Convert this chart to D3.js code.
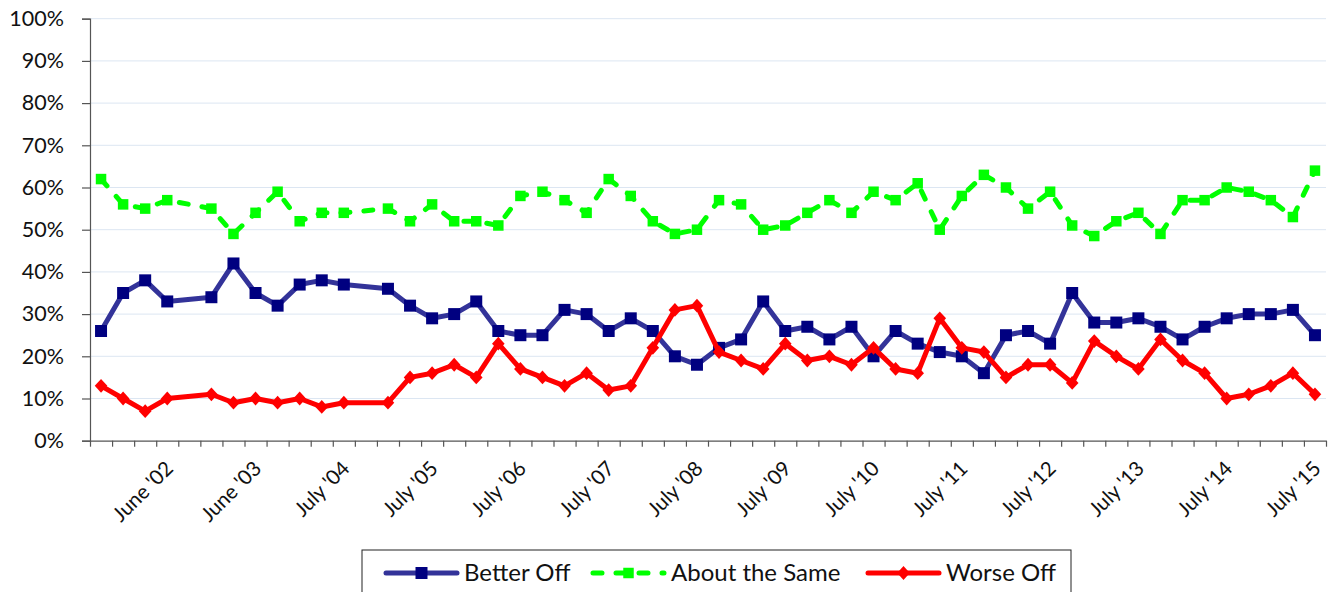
<!DOCTYPE html>
<html>
<head>
<meta charset="utf-8">
<script src="https://cdn.jsdelivr.net/npm/d3@7"></script>
<style>
  html, body { margin: 0; padding: 0; background: #fff; }
  svg { display: block; font-family: Lato, "Open Sans", sans-serif; }
</style>
</head>
<body>
<svg id="chart" width="1330" height="592"></svg>
<script>
// ---- data ----
const categoryCount = 56; // quarterly survey periods
const tickLabels = ["June '02", "June '03", "July '04", "July '05", "July '06", "July '07", "July '08",
                    "July '09", "July '10", "July '11", "July '12", "July '13", "July '14", "July '15"];
const tickLabelStart = 3, tickLabelStep = 4;
const yTicks = [0, 10, 20, 30, 40, 50, 60, 70, 80, 90, 100];

const betterOff = [26, 35, 38, 33, null, 34, 42, 35, 32, 37, 38, 37, null, 36, 32, 29,
                   30, 33, 26, 25, 25, 31, 30, 26, 29, 26, 20, 18, 22, 24, 33, 26, 27, 24, 27, 20,
                   26, 23, 21, 20, 16, 25, 26, 23, 35, 28, 28, 29, 27, 24, 27, 29, 30, 30, 31, 25];
const aboutSame = [62, 56, 55, 57, null, 55, 49, 54, 59, 52, 54, 54, null, 55, 52, 56,
                   52, 52, 51, 58, 59, 57, 54, 62, 58, 52, 49, 50, 57, 56, 50, 51, 54, 57, 54, 59,
                   57, 61, 50, 58, 63, 60, 55, 59, 51, 48.5, 52, 54, 49, 57, 57, 60, 59, 57, 53, 64];
const worseOff = [13, 10, 7, 10, null, 11, 9, 10, 9, 10, 8, 9, null, 9, 15, 16,
                  18, 15, 23, 17, 15, 13, 16, 12, 13, 22, 31, 32, 21, 19, 17, 23, 19, 20, 18, 22,
                  17, 16, 29, 22, 21, 15, 18, 18, 13.7, 23.6, 20, 17, 24, 19, 16, 10, 11, 13, 16, 11];

const seriesNames = ["Better Off", "About the Same", "Worse Off"];

// ---- layout ----
const svg = d3.select("#chart");
const plot = { left: 90, right: 1326, top: 18.7, bottom: 440.7 };

const idx = d3.range(categoryCount);
const x = d3.scaleBand().domain(idx).range([plot.left, plot.right]).paddingInner(0).paddingOuter(0);
const cx = i => x(i) + x.bandwidth() / 2;
const xEdges = d3.scaleLinear().domain([0, categoryCount]).range([plot.left, plot.right]);
const y = d3.scaleLinear().domain([0, 100]).range([plot.bottom, plot.top]);

// gridlines
svg.append("g").selectAll("line").data(yTicks.filter(t => t > 0)).join("line")
  .attr("x1", plot.left).attr("x2", plot.right)
  .attr("y1", d => y(d)).attr("y2", d => y(d))
  .attr("stroke", "#dce6f2").attr("stroke-width", 1);

// y axis
const yAxis = svg.append("g").attr("transform", `translate(${plot.left},0)`)
  .call(d3.axisLeft(y).tickValues(yTicks).tickFormat(d => d + "%").tickSize(8).tickPadding(18));
yAxis.select(".domain").attr("stroke", "#555").attr("stroke-width", 1.2);
yAxis.selectAll(".tick line").attr("stroke", "#555").attr("stroke-width", 1.2);
yAxis.selectAll("text").attr("font-size", 21.5).attr("fill", "#111").attr("font-family", "Lato");

// x axis (ticks between categories)
const xAxis = svg.append("g").attr("transform", `translate(0,${plot.bottom})`)
  .call(d3.axisBottom(xEdges).tickValues(d3.range(categoryCount + 1)).tickFormat("").tickSize(6).tickSizeOuter(0));
xAxis.select(".domain").attr("stroke", "#555").attr("stroke-width", 1.2);
xAxis.selectAll(".tick line").attr("stroke", "#555").attr("stroke-width", 1.2);

// x labels
svg.append("g").selectAll("text").data(tickLabels).join("text")
  .attr("transform", (d, k) => `translate(${cx(tickLabelStart + k * tickLabelStep) + 2},${plot.bottom + 24}) rotate(-45)`)
  .attr("text-anchor", "end").attr("dy", "0.35em")
  .attr("font-size", 20.5).attr("fill", "#111")
  .text(d => d);

// series
const series = [
  { name: seriesNames[0], values: betterOff, line: "#333399", fill: "#000080", dash: null, marker: "square", size: 12 },
  { name: seriesNames[1], values: aboutSame, line: "#00ff00", fill: "#00ff00", dash: "9,14", marker: "square", size: 10.5 },
  { name: seriesNames[2], values: worseOff, line: "#ff0000", fill: "#ff0000", dash: null, marker: "diamond", size: 12 }
];

const lineGen = d3.line().x(d => cx(d.i)).y(d => y(d.v));

function markerPath(type, s) {
  const h = s / 2;
  if (type === "square") return `M${-h},${-h}H${h}V${h}H${-h}Z`;
  return `M0,${-h * 1.15}L${h * 1.05},0L0,${h * 1.15}L${-h * 1.05},0Z`;
}

series.forEach(s => {
  const pts = s.values.map((v, i) => ({ i, v })).filter(d => d.v !== null);
  const g = svg.append("g");
  g.append("path").datum(pts).attr("d", lineGen)
    .attr("fill", "none").attr("stroke", s.line).attr("stroke-width", 5)
    .attr("stroke-linejoin", "round").attr("stroke-linecap", "round")
    .attr("stroke-dasharray", s.dash);
  g.selectAll("path.m").data(pts).join("path").attr("class", "m")
    .attr("transform", d => `translate(${cx(d.i)},${y(d.v)})`)
    .attr("d", markerPath(s.marker, s.size))
    .attr("fill", s.fill);
});

// legend
const legend = svg.append("g");
legend.append("rect").attr("x", 362).attr("y", 550).attr("width", 709).attr("height", 60)
  .attr("fill", "#fff").attr("stroke", "#222").attr("stroke-width", 1);
const legendX = [386, 593, 868];
series.forEach((s, k) => {
  const gx = legendX[k];
  const g = legend.append("g").attr("transform", `translate(${gx},573)`);
  g.append("line").attr("x1", 0).attr("x2", 71).attr("y1", 0).attr("y2", 0)
    .attr("stroke", s.line).attr("stroke-width", 5).attr("stroke-linecap", "round")
    .attr("stroke-dasharray", s.dash);
  g.append("path").attr("transform", "translate(35.5,0)").attr("d", markerPath(s.marker, s.size)).attr("fill", s.fill);
  g.append("text").attr("x", 78).attr("y", 0).attr("dy", "0.35em")
    .attr("font-size", 24).attr("fill", "#111").text(s.name);
});
</script>
</body>
</html>
